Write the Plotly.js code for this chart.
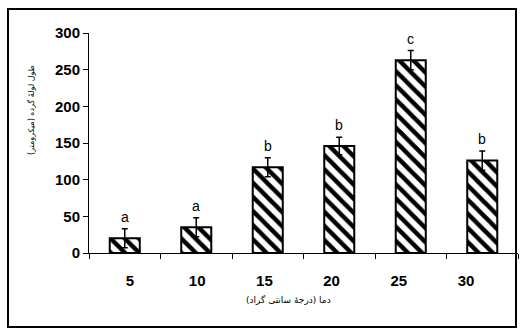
<!DOCTYPE html>
<html>
<head>
<meta charset="utf-8">
<script src="https://cdn.plot.ly/plotly-3.0.1.min.js"></script>
<style>
html,body{margin:0;padding:0;background:#fff;}
#chart{width:524px;height:335px;}
</style>
</head>
<body>
<div id="chart"></div>
<script>
const categories = ["5", "10", "15", "20", "25", "30"];
const values = [20, 35, 117, 146, 263, 126];
const errors = [13, 13, 13, 12, 13, 13];
const letters = ["a", "a", "b", "b", "c", "b"];
const yTitle = "طول لولۀ گرده (میکرومتر)";
const xTitle = "دما (درجۀ سانتی گراد)";

const L = 89, R = 6, T = 33, B = 82, W = 524, H = 335;
const pw = W - L - R, ph = H - T - B;
const px = x => (x - L) / pw;
const py = y => (H - B - y) / ph;

const trace = {
  type: 'bar',
  x: categories,
  y: values,
  xaxis: 'x', yaxis: 'y',
  width: 0.42,
  marker: {
    color: '#ffffff',
    line: {color: '#000000', width: 2},
    pattern: {shape: '\\', fgcolor: '#000000', bgcolor: '#ffffff', size: 10, solidity: 0.45}
  },
  error_y: {type: 'data', array: errors, visible: true, color: '#000000', thickness: 1.5, width: 3},
  hoverinfo: 'none'
};

const annotations = categories.map((c, i) => ({
  x: i, y: values[i] + errors[i], xref: 'x', yref: 'y',
  text: letters[i], showarrow: false, yanchor: 'middle', yshift: 12,
  font: {family: 'Liberation Sans, Arial, sans-serif', size: 14, color: '#000'}
}));
annotations.push({
  x: px(24), y: py(110), xref: 'paper', yref: 'paper', text: yTitle,
  textangle: -90, showarrow: false,
  font: {family: 'DejaVu Sans, Noto Sans, sans-serif', size: 8, color: '#000'}
});
annotations.push({
  x: px(288), y: py(307), xref: 'paper', yref: 'paper', text: xTitle,
  showarrow: false,
  font: {family: 'DejaVu Sans, Noto Sans, sans-serif', size: 9, color: '#000'}
});

const tickFont = {family: 'Liberation Sans, Arial, sans-serif', size: 15, color: '#000', weight: 'bold'};

const layout = {
  width: W, height: H,
  margin: {l: L, r: R, t: T, b: B, pad: 0},
  paper_bgcolor: '#fff', plot_bgcolor: 'rgba(0,0,0,0)',
  showlegend: false,
  xaxis: {
    type: 'category', categoryorder: 'array', categoryarray: categories,
    range: [-0.5, 5.5],
    showline: true, linecolor: '#000', linewidth: 1,
    ticks: 'outside', ticklen: 5, tickcolor: '#000', tickwidth: 1,
    tickson: 'boundaries',
    showticklabels: false, showgrid: false, zeroline: false, fixedrange: true
  },
  xaxis2: {
    type: 'category', categoryorder: 'array', categoryarray: categories,
    range: [-0.5, 5.5], anchor: 'y',
    domain: [px(96.4), px(499.6)],
    showline: false, ticks: '', showgrid: false, zeroline: false,
    tickfont: tickFont, ticklabelstandoff: 17
  },
  yaxis: {
    range: [0, 300], tickvals: [0, 50, 100, 150, 200, 250, 300],
    showline: true, linecolor: '#000', linewidth: 1,
    ticks: 'outside', ticklen: 5, tickcolor: '#000', tickwidth: 1,
    showgrid: false, zeroline: false, tickfont: tickFont, fixedrange: true
  },
  annotations: annotations,
  shapes: [{
    type: 'rect', xref: 'paper', yref: 'paper',
    x0: px(8), x1: px(516), y0: py(327), y1: py(9),
    line: {color: '#000', width: 2}, fillcolor: 'rgba(0,0,0,0)', layer: 'above'
  }]
};

const dummy = {type: 'scatter', x: categories, y: values, xaxis: 'x2', yaxis: 'y',
  mode: 'markers', marker: {opacity: 0}, hoverinfo: 'none'};

Plotly.newPlot('chart', [trace, dummy], layout, {staticPlot: true, displayModeBar: false});
</script>
</body>
</html>
